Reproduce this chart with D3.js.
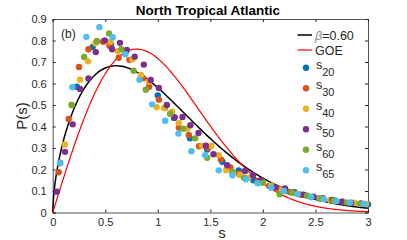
<!DOCTYPE html>
<html>
<head>
<meta charset="utf-8">
<script src="https://cdn.jsdelivr.net/npm/d3@7"></script>
<style>
  html, body { margin: 0; padding: 0; background: #fff; }
  svg { display: block; font-family: "Liberation Sans", Arial, sans-serif; }
  .axis path, .axis line { stroke: #262626; }
  .axis text { fill: #262626; font-size: 11px; }
</style>
</head>
<body>
<svg id="chart" width="407" height="240"></svg>
<script>
  // spacing distributions, [s, P(s)]
  const s20 = [[0.07,0.23],[0.23,0.585],[0.38,0.77],[0.555,0.78],[0.69,0.74],[0.84,0.63],[1.0,0.545],[1.155,0.44],[1.307,0.345],[1.47,0.293],[1.615,0.236],[1.77,0.196],[1.91,0.15],[2.07,0.125],[2.22,0.1],[2.38,0.083],[2.53,0.066],[2.69,0.055],[2.84,0.045],[3.0,0.038]];
  const s30 = [[0.057,0.187],[0.152,0.435],[0.25,0.677],[0.34,0.759],[0.42,0.797],[0.48,0.794],[0.54,0.776],[0.628,0.72],[0.73,0.71],[0.86,0.625],[0.917,0.585],[1.01,0.525],[1.067,0.486],[1.2,0.395],[1.295,0.361],[1.393,0.308],[1.48,0.30],[1.6,0.247],[1.69,0.21],[1.77,0.18],[1.95,0.145],[2.06,0.123],[2.16,0.108],[2.26,0.095],[2.36,0.083],[2.46,0.072],[2.56,0.064],[2.66,0.056],[2.76,0.05],[2.86,0.045],[2.96,0.04]];
  const s40 = [[0.114,0.316],[0.18,0.50],[0.26,0.618],[0.336,0.703],[0.406,0.787],[0.55,0.794],[0.62,0.75],[0.758,0.713],[0.84,0.64],[0.914,0.609],[0.99,0.49],[1.06,0.486],[1.136,0.469],[1.2,0.417],[1.28,0.39],[1.42,0.31],[1.51,0.31],[1.58,0.267],[1.65,0.196],[1.71,0.19],[1.78,0.175],[1.86,0.162],[1.99,0.146],[2.08,0.125],[2.18,0.106],[2.3,0.092],[2.42,0.078],[2.54,0.067],[2.64,0.058],[2.76,0.05],[2.87,0.046],[2.98,0.04]];
  const s50 = [[0.04,0.097],[0.117,0.282],[0.19,0.41],[0.26,0.575],[0.34,0.623],[0.41,0.746],[0.495,0.80],[0.565,0.759],[0.64,0.789],[0.705,0.756],[0.78,0.725],[0.867,0.688],[0.933,0.616],[1.01,0.579],[1.086,0.50],[1.16,0.443],[1.235,0.444],[1.31,0.406],[1.387,0.37],[1.457,0.311],[1.53,0.271],[1.66,0.22],[1.83,0.193],[1.905,0.174],[1.98,0.15],[2.12,0.116],[2.21,0.112],[2.3,0.094],[2.39,0.082],[2.48,0.074],[2.57,0.066],[2.66,0.058],[2.75,0.05],[2.84,0.044],[2.93,0.042]];
  const s60 = [[0.07,0.23],[0.18,0.50],[0.30,0.723],[0.42,0.797],[0.536,0.833],[0.653,0.76],[0.77,0.659],[0.886,0.571],[1.117,0.459],[1.24,0.39],[1.355,0.345],[1.47,0.255],[1.71,0.19],[1.82,0.162],[2.0,0.138],[2.16,0.085],[2.28,0.092],[2.42,0.078],[2.55,0.065],[2.67,0.055],[2.8,0.046],[2.92,0.04]];
  const s65 = [[0.07,0.23],[0.187,0.583],[0.32,0.817],[0.444,0.862],[0.571,0.815],[0.69,0.736],[0.825,0.618],[0.946,0.503],[1.07,0.427],[1.196,0.367],[1.32,0.285],[1.45,0.267],[1.58,0.196],[1.71,0.173],[1.84,0.155],[1.95,0.136],[2.08,0.115],[2.2,0.1],[2.33,0.086],[2.46,0.072],[2.58,0.062],[2.7,0.053],[2.83,0.046],[2.96,0.04]];

  const seriesNames = ["20", "30", "40", "50", "60", "65"];
  const seriesData = [s20, s30, s40, s50, s60, s65];
  const seriesColors = ["#0072BD", "#D95319", "#EDB120", "#7E2F8E", "#77AC30", "#4DBEEE"];

  const beta = 0.60;
  const xTicks = [0, 0.5, 1, 1.5, 2, 2.5, 3];
  const yTicks = [0, 0.1, 0.2, 0.3, 0.4, 0.5, 0.6, 0.7, 0.8, 0.9];

  // Lanczos gamma, for the Brody normalisation
  function gamma(z) {
    const c = [0.99999999999980993, 676.5203681218851, -1259.1392167224028, 771.32342877765313,
      -176.61502916214059, 12.507343278686905, -0.13857109526572012, 9.9843695780195716e-6, 1.5056327351493116e-7];
    z -= 1;
    let a = c[0];
    for (let i = 1; i < 9; i++) a += c[i] / (z + i);
    const t = z + 7.5;
    return Math.sqrt(2 * Math.PI) * Math.pow(t, z + 0.5) * Math.exp(-t) * a;
  }
  const bNorm = Math.pow(gamma((beta + 2) / (beta + 1)), beta + 1);
  const brody = s => (beta + 1) * bNorm * Math.pow(s, beta) * Math.exp(-bNorm * Math.pow(s, beta + 1));
  const goe = s => (Math.PI / 2) * s * Math.exp(-Math.PI * s * s / 4);

  const pLeft = 52.7, pRight = 368, pTop = 19, pBottom = 212.5;
  const x = d3.scaleLinear().domain([0, 3]).range([pLeft, pRight]);
  const y = d3.scaleLinear().domain([0, 0.9]).range([pBottom, pTop]);

  const svg = d3.select("#chart");

  const grid = d3.range(0, 3.0001, 0.01);
  const line = d3.line().x(d => x(d[0])).y(d => y(d[1]));

  // axes with inward ticks on all four sides
  const fmt = d => String(d);
  svg.append("g").attr("class", "axis").attr("transform", `translate(0,${pBottom})`)
    .call(d3.axisBottom(x).tickValues(xTicks).tickFormat(fmt).tickSize(-3).tickPadding(6));
  svg.append("g").attr("class", "axis").attr("transform", `translate(0,${pTop})`)
    .call(d3.axisTop(x).tickValues(xTicks).tickFormat("").tickSize(-3));
  svg.append("g").attr("class", "axis").attr("transform", `translate(${pLeft},0)`)
    .call(d3.axisLeft(y).tickValues(yTicks).tickFormat(fmt).tickSize(-3).tickPadding(6));
  svg.append("g").attr("class", "axis").attr("transform", `translate(${pRight},0)`)
    .call(d3.axisRight(y).tickValues(yTicks).tickFormat("").tickSize(-3));
  svg.selectAll(".axis .domain").attr("stroke-width", 0.8);

  svg.append("path").datum(grid.map(s => [s, brody(s)]))
    .attr("d", line).attr("fill", "none").attr("stroke", "#000").attr("stroke-width", 1.5);
  svg.append("path").datum(grid.map(s => [s, goe(s)]))
    .attr("d", line).attr("fill", "none").attr("stroke", "#ff0000").attr("stroke-width", 1.2);

  seriesData.forEach((pts, i) => {
    svg.append("g").selectAll("circle").data(pts).enter().append("circle")
      .attr("cx", d => x(d[0])).attr("cy", d => y(d[1])).attr("r", 3.2)
      .attr("fill", seriesColors[i]);
  });

  // titles and labels
  svg.append("text").attr("x", 208).attr("y", 15).attr("text-anchor", "middle")
    .attr("font-size", 13.5).attr("font-weight", "bold").attr("fill", "#000").text("North Tropical Atlantic");
  svg.append("text").attr("transform", "translate(27,116) rotate(-90)").attr("text-anchor", "middle")
    .attr("font-size", 15).attr("fill", "#262626").text("P(s)");
  svg.append("text").attr("x", 222).attr("y", 238).attr("text-anchor", "middle")
    .attr("font-size", 15).attr("fill", "#262626").text("s");
  svg.append("text").attr("x", 61).attr("y", 38).attr("font-size", 12).attr("fill", "#262626").text("(b)");

  // legend
  const lg = svg.append("g").attr("font-size", 12.5).attr("fill", "#262626");
  lg.append("line").attr("x1", 297.5).attr("x2", 312).attr("y1", 35).attr("y2", 35)
    .attr("stroke", "#000").attr("stroke-width", 1.5);
  const bt = lg.append("text").attr("x", 315).attr("y", 39.5);
  bt.append("tspan").attr("fill", "#888").attr("font-style", "italic").text("β");
  bt.append("tspan").text("=" + beta.toFixed(2));
  lg.append("line").attr("x1", 297.5).attr("x2", 312).attr("y1", 50).attr("y2", 50)
    .attr("stroke", "#ff0000").attr("stroke-width", 1.2);
  lg.append("text").attr("x", 315).attr("y", 54.5).text("GOE");
  seriesNames.forEach((n, i) => {
    const cy = 67.7 + i * 20.5;
    lg.append("circle").attr("cx", 306).attr("cy", cy).attr("r", 3.2).attr("fill", seriesColors[i]);
    const t = lg.append("text").attr("x", 316).attr("y", cy + 1);
    t.append("tspan").text("s");
    t.append("tspan").attr("dy", 7).attr("font-size", 11).text(n);
  });
</script>
</body>
</html>
